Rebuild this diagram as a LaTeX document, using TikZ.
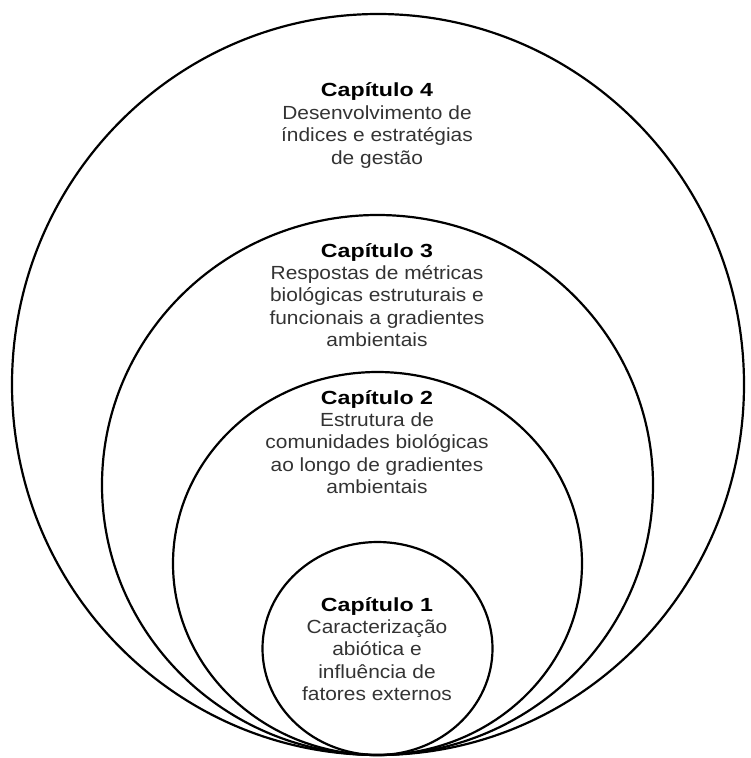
\documentclass[tikz,border=0pt]{standalone}
\usepackage{fontspec}
\setmainfont{Liberation Sans}[FakeStretch=1.1, BoldFeatures={FakeStretch=1.22}]

\begin{document}
\begin{tikzpicture}[x=1pt, y=-1pt,
    ring/.style={line width=2.2pt},
    chaptext/.style={align=center, inner sep=0pt, text=black!80,
      font=\fontsize{19}{22.4}\selectfont}]
  \useasboundingbox (0,0) rectangle (750,758);
  % nested chapter circles, all touching at the bottom
  \draw[ring] (378,384.5) ellipse [x radius=366pt, y radius=370.5pt];
  \draw[ring] (377.5,485) ellipse [x radius=275.5pt, y radius=270pt];
  \draw[ring] (377.5,563.5) ellipse [x radius=204.5pt, y radius=191.5pt];
  \draw[ring] (377.5,648.5) ellipse [x radius=115pt, y radius=106.5pt];
  % chapter texts
  \node[chaptext] (cap4) at (377,125.5) {\textbf{\textcolor{black}{Capítulo 4}}\\Desenvolvimento de\\índices e estratégias\\de gestão};
  \node[chaptext] (cap3) at (377,295) {\textbf{\textcolor{black}{Capítulo 3}}\\Respostas de métricas\\biológicas estruturais e\\funcionais a gradientes\\ambientais};
  \node[chaptext] (cap2) at (377,442) {\textbf{\textcolor{black}{Capítulo 2}}\\Estrutura de\\comunidades biológicas\\ao longo de gradientes\\ambientais};
  \node[chaptext] (cap1) at (377,649) {\textbf{\textcolor{black}{Capítulo 1}}\\Caracterização\\abiótica e\\influência de\\fatores externos};
\end{tikzpicture}
\end{document}
